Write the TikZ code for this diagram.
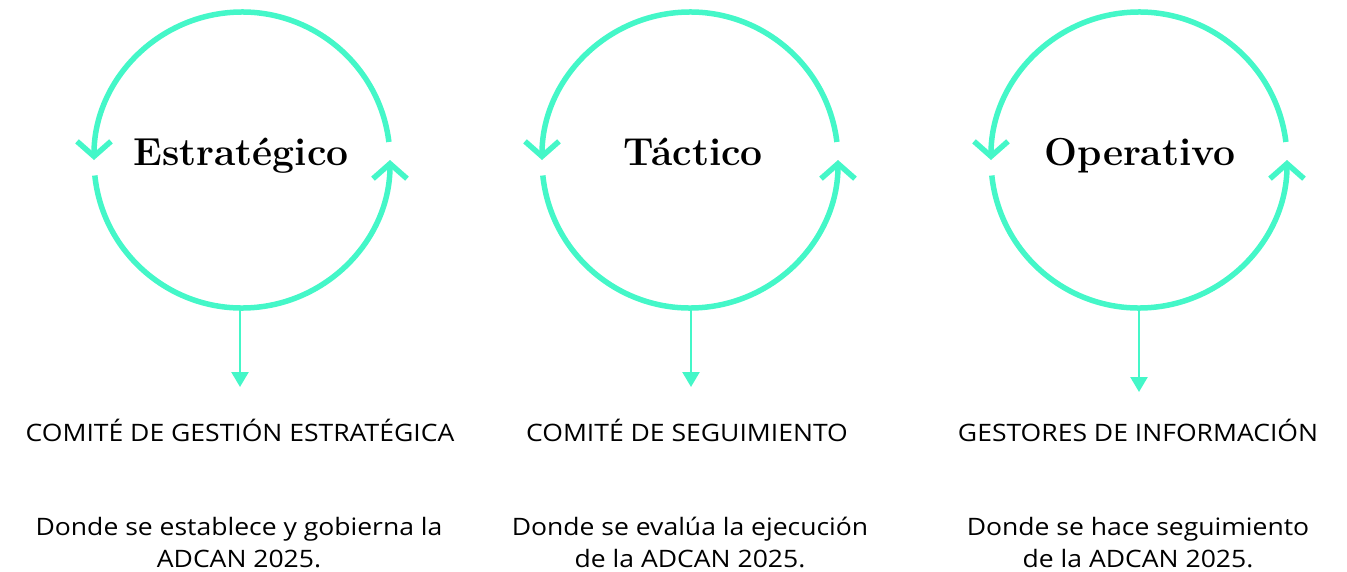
\documentclass[tikz,border=0pt]{standalone}
\usepackage{fontspec}
\setmainfont{Open Sans}[FakeStretch=1.105]
\newfontfamily\headfont{Latin Modern Roman}
\usetikzlibrary{arrows.meta}
\definecolor{mint}{HTML}{44F7C8}
\begin{document}
\begin{tikzpicture}[x=1pt,y=-1pt,
  ring/.style={draw=mint,line width=5.5pt,line cap=butt,-{Straight Barb[length=15pt,width=34pt,line width=5.5pt]}},
  drop/.style={draw=mint,line width=2.5pt,-{Triangle[length=15pt,width=17pt]}},
  head/.style={font=\headfont\bfseries\fontsize{39}{39}\selectfont,anchor=base,inner sep=0pt},
  role/.style={font=\fontsize{24}{30}\selectfont,anchor=base,inner sep=0pt},
  desc/.style={font=\fontsize{24}{31.5}\selectfont,align=center,anchor=base,inner sep=0pt}]
\useasboundingbox (0,0) rectangle (1347,571);

% circle centres
\coordinate (o1) at (242,160);
\coordinate (o2) at (690,160);
\coordinate (o3) at (1139,160);

\foreach \o in {o1,o2,o3}{
  \draw[ring] (\o) ++(-7:148) arc[start angle=-7,end angle=-180,radius=148];
  \draw[ring] (\o) ++(174:148) arc[start angle=174,end angle=0,radius=148];
}

% headings
\node[head] (h1) at (241,165) {Estratégico};
\node[head] (h2) at (693,165) {Táctico};
\node[head] (h3) at (1140,165) {Operativo};

% bottom points and arrow ends
\coordinate (b1) at (240,308);
\coordinate (b2) at (691,308);
\coordinate (b3) at (1139,308);
\coordinate (a1) at (240,387);
\coordinate (a2) at (691,387);
\coordinate (a3) at (1139,392);
\draw[drop] (b1) -- (a1);
\draw[drop] (b2) -- (a2);
\draw[drop] (b3) -- (a3);

% roles
\node[role] (r1) at (240,441.5) {COMITÉ DE GESTIÓN ESTRATÉGICA};
\node[role] (r2) at (687,441.5) {COMITÉ DE SEGUIMIENTO};
\node[role] (r3) at (1138,441.5) {GESTORES DE INFORMACIÓN};

% descriptions (base anchor = last line)
\node[desc] (d1) at (239,567) {Donde se establece y gobierna la\\ADCAN 2025.};
\node[desc] (d2) at (690,567) {Donde se evalúa la ejecución\\de la ADCAN 2025.};
\node[desc] (d3) at (1138,567) {Donde se hace seguimiento\\de la ADCAN 2025.};
\end{tikzpicture}
\end{document}
